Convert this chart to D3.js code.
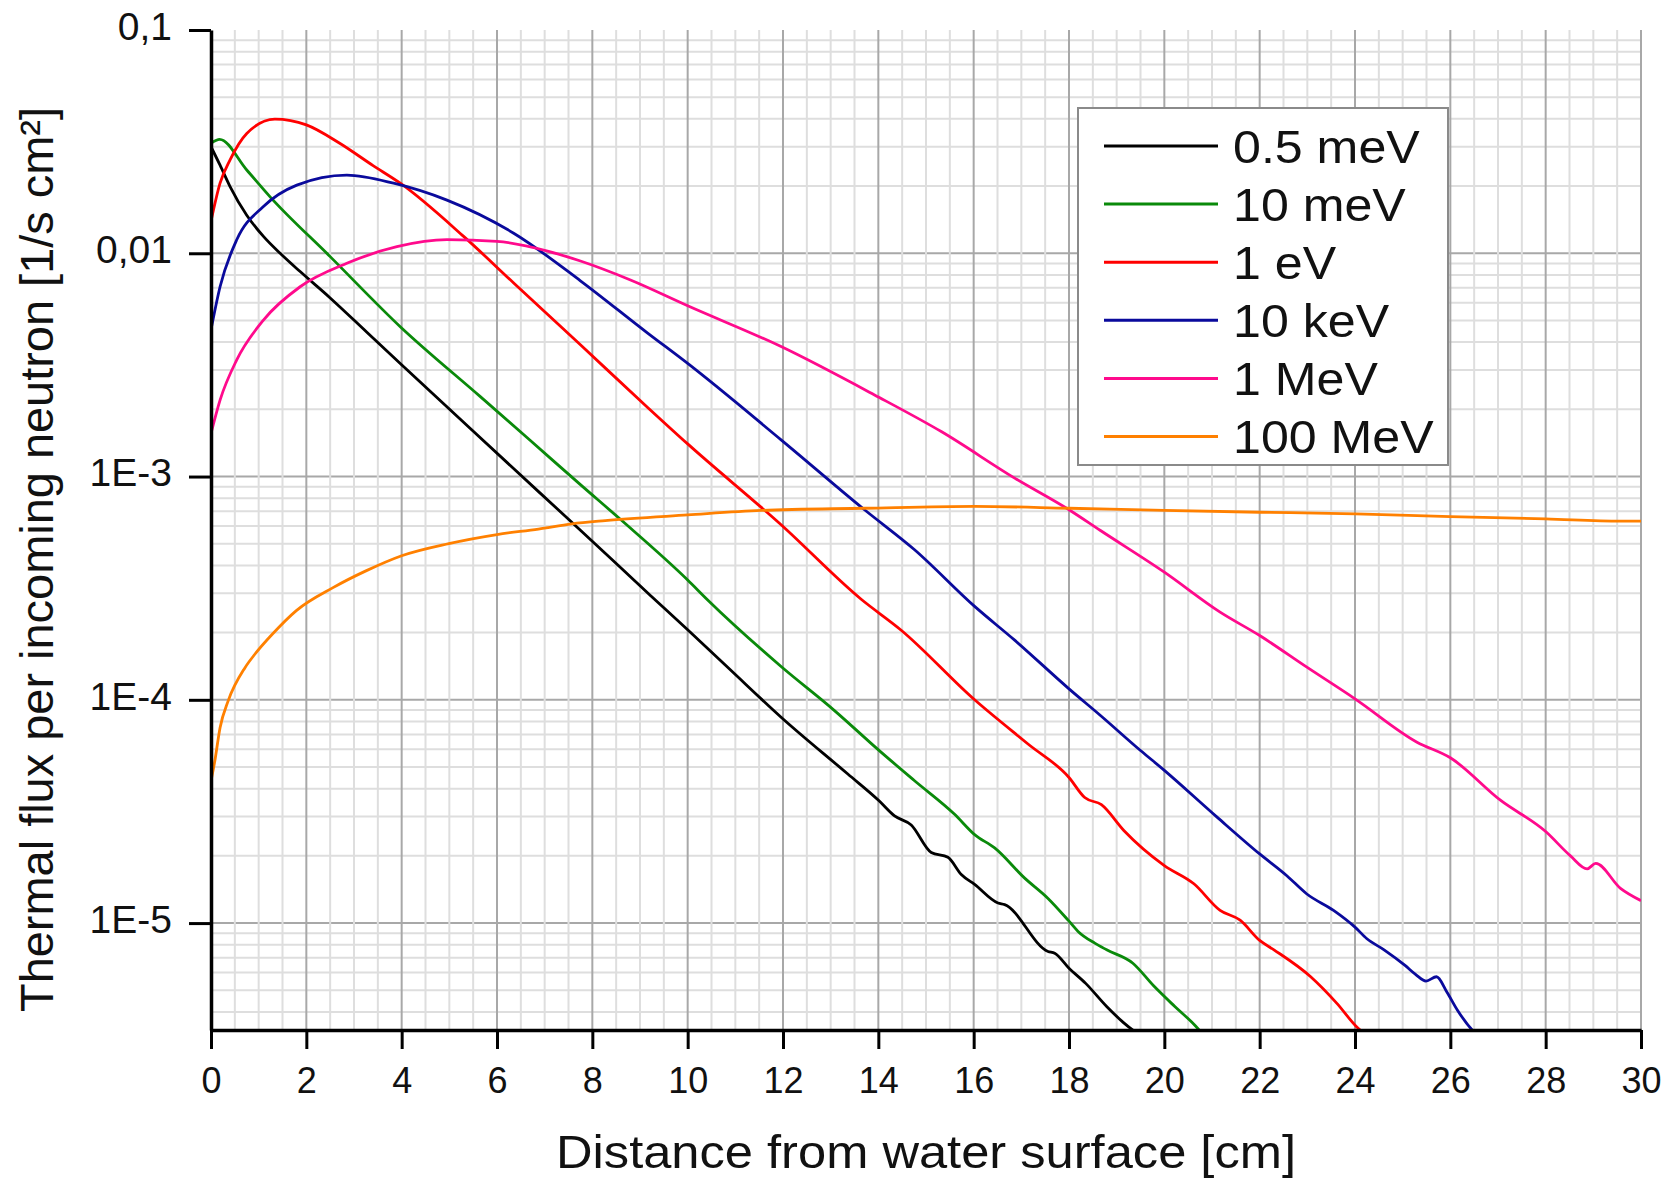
<!DOCTYPE html>
<html>
<head>
<meta charset="utf-8">
<script src="https://cdn.jsdelivr.net/npm/d3@7"></script>
<style>
  body { margin: 0; background: #fff; }
  svg { display: block; font-family: "Liberation Sans", Arial, sans-serif; }
</style>
</head>
<body>
<svg id="chart" width="1679" height="1178"></svg>
<script>
// thermal flux vs depth, one [depth cm, flux] list per incoming energy
const meV05 = [[0,3.0e-2],[0.19,2.48e-2],[0.4,1.99e-2],[0.75,1.48e-2],[1.1,1.19e-2],[1.45,1.0e-2],
  [1.87,8.28e-3],[2.5,6.31e-3],[3.27,4.43e-3],[3.97,3.21e-3],[5.44,1.64e-3],[6.9,8.45e-4],[7.75,5.75e-4],
  [9.23,2.92e-4],[10,2.06e-4],[10.9,1.36e-4],[11.96,8.36e-5],[13.36,4.65e-5],[14.02,3.52e-5],[14.34,3.02e-5],
  [14.69,2.75e-5],[15.11,2.07e-5],[15.46,1.97e-5],[15.74,1.65e-5],[16.02,1.49e-5],[16.51,1.23e-5],
  [16.65,1.21e-5],[17.56,7.46e-6],[17.7,7.33e-6],[18,6.28e-6],[18.35,5.37e-6],[18.79,4.23e-6],
  [19.12,3.62e-6],[19.45,3.2e-6],[19.6,3.1e-6]];
const meV10 = [[0,3.11e-2],[0.18,3.24e-2],[0.75,2.36e-2],[1.24,1.79e-2],[2.5,9.66e-3],[3.97,4.69e-3],
  [5.65,2.28e-3],[6.7,1.45e-3],[7.75,9.2e-4],[8.6,6.4e-4],[10,3.44e-4],[10.42,2.8e-4],[11.96,1.41e-4],
  [13.08,8.95e-5],[14.02,5.92e-5],[14.76,4.34e-5],[15.6,3.07e-5],[16.02,2.49e-5],[16.44,2.17e-5],
  [17.07,1.59e-5],[17.56,1.29e-5],[18,1.02e-5],[18.19,9.18e-6],[18.54,8.13e-6],[18.79,7.59e-6],
  [19.34,6.61e-6],[19.77,5.25e-6],[20.22,4.23e-6],[20.65,3.47e-6],[20.85,3.1e-6]];
const eV1 = [[0,1.39e-2],[0.19,2.06e-2],[0.4,2.62e-2],[0.75,3.44e-2],[1.34,3.99e-2],[2,3.76e-2],
  [2.7,3.11e-2],[3.4,2.47e-2],[3.97,2.06e-2],[5.3,1.19e-2],[6.35,7.36e-3],[7.75,3.89e-3],[9.16,2.04e-3],
  [10,1.40e-3],[11.96,6.08e-4],[13.64,2.82e-4],[14.48,2.05e-4],[16.02,1.0e-4],[17.14,6.34e-5],
  [18,4.49e-5],[18.33,3.65e-5],[18.68,3.39e-5],[19.15,2.6e-5],[20,1.81e-5],[20.62,1.5e-5],
  [21.17,1.14e-5],[21.59,1.03e-5],[22,8.36e-6],[22.3,7.59e-6],[23.07,5.75e-6],[23.62,4.37e-6],
  [24.06,3.39e-6],[24.3,3.1e-6]];
const keV10 = [[0,4.54e-3],[0.19,7.08e-3],[0.54,1.15e-2],[1.1,1.62e-2],[1.8,2.02e-2],[2.85,2.24e-2],
  [3.83,2.06e-2],[4.95,1.73e-2],[6.35,1.23e-2],[7.75,7.53e-3],[9.16,4.39e-3],[10,3.21e-3],
  [11.96,1.46e-3],[13.71,7.1e-4],[14.76,4.7e-4],[16.02,2.62e-4],[16.86,1.85e-4],[18,1.12e-4],
  [18.66,8.51e-5],[19.5,5.93e-5],[20,4.83e-5],[21.1,2.99e-5],[22,2.04e-5],[22.57,1.63e-5],
  [22.99,1.35e-5],[23.55,1.14e-5],[24,9.59e-6],[24.25,8.51e-6],[24.61,7.59e-6],[25.05,6.46e-6],
  [25.27,5.89e-6],[25.49,5.5e-6],[25.71,5.75e-6],[25.93,4.9e-6],[26.15,4.07e-6],[26.53,3.2e-6],[26.6,3.1e-6]];
const MeV1 = [[0,1.56e-3],[0.19,2.2e-3],[0.54,3.33e-3],[1.1,5.02e-3],[1.87,7.08e-3],[2.85,9.02e-3],
  [3.9,1.07e-2],[4.95,1.15e-2],[6,1.13e-2],[7.06,1.023e-2],[7.75,9.23e-3],[8.8,7.59e-3],[10,5.82e-3],
  [11.96,3.82e-3],[13.92,2.32e-3],[15.32,1.59e-3],[16.86,9.84e-4],[18,7.1e-4],[18.66,5.73e-4],
  [20,3.73e-4],[21.17,2.47e-4],[22,1.94e-4],[22.99,1.4e-4],[24,1.01e-4],[25.3,6.46e-5],[26,5.5e-5],
  [27.05,3.55e-5],[28,2.57e-5],[28.52,2.0e-5],[28.87,1.75e-5],[29.05,1.85e-5],[29.57,1.43e-5],[30,1.26e-5]];
const MeV100 = [[0,4.33e-5],[0.08,5.32e-5],[0.19,7.5e-5],[0.36,9.89e-5],[0.71,1.39e-4],[0.92,1.6e-4],
  [1.27,1.95e-4],[1.79,2.51e-4],[2.56,3.18e-4],[3.25,3.78e-4],[4,4.42e-4],[4.99,5.01e-4],
  [6,5.5e-4],[6.87,5.82e-4],[7.57,6.14e-4],[8.27,6.35e-4],[10,6.73e-4],[11.54,7.05e-4],[13.71,7.21e-4],
  [16.02,7.35e-4],[18,7.21e-4],[20,7.05e-4],[22,6.92e-4],[24,6.81e-4],[26,6.62e-4],[28,6.46e-4],
  [29.57,6.31e-4],[30,6.31e-4]];

const seriesNames = ["0.5 meV", "10 meV", "1 eV", "10 keV", "1 MeV", "100 MeV"];
const seriesData = [meV05, meV10, eV1, keV10, MeV1, MeV100];
const seriesColors = ["#000000", "#0a8a0a", "#ff0000", "#0a0a9c", "#ff0a8c", "#ff8000"];
const yTickLabels = {"-1": "0,1", "-2": "0,01", "-3": "1E-3", "-4": "1E-4", "-5": "1E-5"};

const svg = d3.select("#chart");
const plotLeft = 211, plotRight = 1641, plotTop = 30, plotBottom = 1030;

const x = d3.scaleLinear().domain([0, 30]).range([plotLeft, plotRight]);
const y = d3.scaleLog().domain([3.32e-6, 0.1]).range([plotBottom, plotTop]);

// log minor values inside the range
let logVals = [];
for (let n = -6; n <= -2; n++) {
  for (let k = 1; k <= 9; k++) {
    const v = k * Math.pow(10, n);
    if (v >= 3.32e-6) logVals.push(v);
  }
}
logVals.push(0.1);
const isDecade = v => Math.abs(Math.log10(v) - Math.round(Math.log10(v))) < 1e-9;
const xVals = d3.range(0, 30.001, 0.5);

// grid
const grid = svg.append("g");
grid.selectAll("line.h")
  .data(logVals.filter(v => v < 0.0999))
  .enter().append("line")
  .attr("x1", plotLeft).attr("x2", plotRight)
  .attr("y1", d => y(d)).attr("y2", d => y(d))
  .attr("stroke", d => isDecade(d) ? "#a8a8a8" : "#dedede")
  .attr("stroke-width", 2);
grid.selectAll("line.v")
  .data(xVals.filter(v => v > 0))
  .enter().append("line")
  .attr("y1", plotTop).attr("y2", plotBottom)
  .attr("x1", d => x(d)).attr("x2", d => x(d))
  .attr("stroke", d => d % 2 === 0 ? "#a8a8a8" : "#dedede")
  .attr("stroke-width", 2);

// curves
svg.append("clipPath").attr("id", "plotclip")
  .append("rect").attr("x", plotLeft).attr("y", plotTop)
  .attr("width", plotRight - plotLeft).attr("height", plotBottom - plotTop);

const line = d3.line()
  .x(d => x(d[0]))
  .y(d => y(d[1]))
  .curve(d3.curveMonotoneX);

svg.append("g").attr("clip-path", "url(#plotclip)")
  .selectAll("path")
  .data(seriesData)
  .enter().append("path")
  .attr("d", line)
  .attr("fill", "none")
  .attr("stroke", (d, i) => seriesColors[i])
  .attr("stroke-width", 2.8)
  .attr("stroke-linejoin", "round");

// axes
const yMajor = d3.axisLeft(y).tickValues(logVals.filter(isDecade)).tickSize(22).tickSizeOuter(0)
  .tickPadding(17).tickFormat(d => yTickLabels[Math.round(Math.log10(d))]);
const yMinor = d3.axisLeft(y).tickValues(logVals.filter(v => !isDecade(v))).tickSize(12).tickSizeOuter(0)
  .tickFormat("");
const xMajor = d3.axisBottom(x).tickValues(d3.range(0, 31, 2)).tickSize(19).tickSizeOuter(0).tickPadding(18);
const xMinor = d3.axisBottom(x).tickValues(xVals.filter(v => v % 2 !== 0)).tickSize(10).tickSizeOuter(0)
  .tickFormat("");

const gy = svg.append("g").attr("transform", `translate(${plotLeft},0)`);
gy.call(yMinor);
gy.call(yMajor);
const gx = svg.append("g").attr("transform", `translate(0,${plotBottom})`);
gx.call(xMinor);
gx.call(xMajor);

svg.selectAll(".domain").attr("stroke", "#000").attr("stroke-width", 3.5);
svg.selectAll(".tick line").attr("stroke", "#000").attr("stroke-width", 3);
svg.selectAll(".tick text").attr("font-family", "Liberation Sans, Arial, sans-serif")
  .attr("fill", "#111");
gy.selectAll(".tick text").attr("font-size", 39).attr("dy", "0.24em");
gx.selectAll(".tick text").attr("font-size", 36);

// axis titles
svg.append("text")
  .attr("x", 556).attr("y", 1168)
  .attr("font-size", 46)
  .attr("textLength", 740)
  .attr("lengthAdjust", "spacingAndGlyphs")
  .attr("fill", "#111")
  .text("Distance from water surface [cm]");

svg.append("text")
  .attr("transform", "translate(53,1012) rotate(-90)")
  .attr("font-size", 46)
  .attr("textLength", 905)
  .attr("lengthAdjust", "spacingAndGlyphs")
  .attr("fill", "#111")
  .text("Thermal flux per incoming neutron [1/s cm²]");

// legend
const legend = svg.append("g");
legend.append("rect")
  .attr("x", 1078).attr("y", 108).attr("width", 370).attr("height", 357)
  .attr("fill", "#fff").attr("stroke", "#8a8a8a").attr("stroke-width", 2);
const rows = legend.selectAll("g.row")
  .data(seriesNames)
  .enter().append("g")
  .attr("transform", (d, i) => `translate(0,${146 + i * 58.1})`);
rows.append("line")
  .attr("x1", 1104).attr("x2", 1218)
  .attr("stroke", (d, i) => seriesColors[i])
  .attr("stroke-width", 3);
rows.append("text")
  .attr("transform", "translate(1233,0) scale(1.09,1)")
  .attr("dy", "0.36em")
  .attr("font-size", 46)
  .attr("fill", "#111")
  .text(d => d);
</script>
</body>
</html>
